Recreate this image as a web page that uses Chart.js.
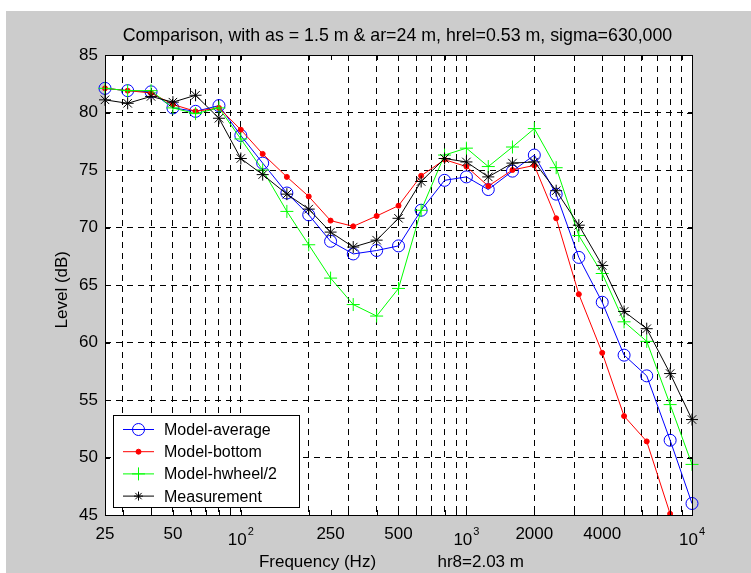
<!DOCTYPE html>
<html>
<head>
<meta charset="utf-8">
<script src="https://cdn.jsdelivr.net/npm/chart.js@4.4.1/dist/chart.umd.min.js"></script>
<style>
  html, body { margin: 0; padding: 0; background: #fff; }
  #wrap { position: absolute; left: 6px; top: 11px; width: 745px; height: 562px; background: #cccccc; }
  canvas { display: block; }
</style>
</head>
<body>
<div id="wrap"><canvas id="chart" width="745" height="562"></canvas></div>
<script>
// third-octave band centres (Hz)
const FREQS = [25, 31.5, 40, 50, 63, 80, 100, 125, 160, 200, 250, 315, 400, 500, 630, 800,
  1000, 1250, 1600, 2000, 2500, 3150, 4000, 5000, 6300, 8000, 10000];

const MODEL_AVERAGE = [82.1, 81.9, 81.8, 80.4, 80.1, 80.6, 78.0, 75.6, 73.0, 71.1, 68.8, 67.7, 68.0, 68.4,
  71.5, 74.1, 74.4, 73.3, 74.9, 76.3, 72.9, 67.4, 63.5, 58.9, 57.1, 51.5, 46.0];
const MODEL_BOTTOM = [82.1, 81.9, 81.7, 80.7, 80.1, 80.4, 78.5, 76.4, 74.4, 72.7, 70.6, 70.1, 71.0, 71.9,
  74.5, 75.9, 75.3, 73.6, 75.0, 75.4, 70.8, 64.2, 59.1, 53.6, 51.4, 45.1, 40.0];
const MODEL_HWHEEL = [82.1, 81.9, 81.9, 80.4, 79.9, 80.4, 77.7, 75.0, 71.4, 68.5, 65.6, 63.3, 62.3, 64.7,
  71.5, 76.3, 76.9, 75.3, 77.0, 78.6, 75.2, 69.3, 66.0, 61.8, 60.1, 54.6, 49.4];
const MEASUREMENT = [81.1, 80.8, 81.4, 80.9, 81.5, 79.5, 76.0, 74.6, 72.9, 71.6, 69.6, 68.3, 68.9, 70.8,
  74.0, 76.0, 75.7, 74.4, 75.6, 75.7, 73.2, 70.2, 66.7, 62.7, 61.2, 57.3, 53.3];

// x axis: plain labels, powers of ten (drawn as 10^n), and dashed grid positions
const X_LABELS = { 25: "25", 50: "50", 250: "250", 500: "500", 2000: "2000", 4000: "4000" };
const X_POWERS = [100, 1000, 10000];
const X_GRID = [30, 40, 50, 60, 70, 80, 90, 100, 200, 300, 400, 500, 600, 700, 800, 900,
  1000, 2000, 3000, 4000, 5000, 6000, 7000, 8000, 9000];
const X_TICKS = [25, 250, ...X_GRID, 10000].sort((a, b) => a - b);
const Y_TICKS = [45, 50, 55, 60, 65, 70, 75, 80, 85];

const TITLE = "Comparison, with as = 1.5 m & ar=24 m, hrel=0.53 m, sigma=630,000";
const FONT = "'Liberation Sans', Arial, sans-serif";

const toPoints = (vals) => vals.map((v, i) => ({ x: FREQS[i], y: v }));

/* ===== axes box, inward ticks, 10^n labels, title, legend ===== */
const matlabLook = {
  id: "matlabLook",
  beforeDraw(chart) {
    const { ctx, chartArea: a } = chart;
    ctx.save();
    ctx.fillStyle = "#cccccc";
    ctx.fillRect(0, 0, chart.width, chart.height);
    ctx.fillStyle = "#ffffff";
    ctx.fillRect(a.left, a.top, a.right - a.left, a.bottom - a.top);
    ctx.restore();
  },
  afterDraw(chart) {
    const { ctx, chartArea: a, scales } = chart;
    const xs = scales.x, ys = scales.y;
    ctx.save();

    // box + inward ticks
    ctx.strokeStyle = "#000";
    ctx.lineWidth = 1;
    ctx.strokeRect(Math.round(a.left) + 0.5, Math.round(a.top) + 0.5,
      Math.round(a.right - a.left), Math.round(a.bottom - a.top));
    ctx.beginPath();
    X_TICKS.forEach((v) => {
      const px = Math.round(xs.getPixelForValue(v)) + 0.5;
      ctx.moveTo(px, a.bottom); ctx.lineTo(px, a.bottom - 5);
      ctx.moveTo(px, a.top); ctx.lineTo(px, a.top + 5);
    });
    Y_TICKS.forEach((v) => {
      const py = Math.round(ys.getPixelForValue(v)) + 0.5;
      ctx.moveTo(a.left, py); ctx.lineTo(a.left + 5, py);
      ctx.moveTo(a.right, py); ctx.lineTo(a.right - 5, py);
    });
    ctx.stroke();

    // 10^n tick labels
    ctx.fillStyle = "#000";
    ctx.textBaseline = "alphabetic";
    X_POWERS.forEach((v) => {
      const px = xs.getPixelForValue(v);
      const exp = String(Math.round(Math.log10(v)));
      ctx.font = `17px ${FONT}`;
      const wBase = ctx.measureText("10").width;
      ctx.font = `11px ${FONT}`;
      const wExp = ctx.measureText(exp).width;
      const x0 = px - (wBase + wExp + 1) / 2;
      ctx.font = `17px ${FONT}`;
      ctx.textAlign = "left";
      ctx.fillText("10", x0, a.bottom + 30);
      ctx.font = `11px ${FONT}`;
      ctx.fillText(exp, x0 + wBase + 1, a.bottom + 20);
    });

    // title
    ctx.font = `17.8px ${FONT}`;
    ctx.textAlign = "center";
    ctx.textBaseline = "middle";
    ctx.fillText(TITLE, (a.left + a.right) / 2 - 1, 25);

    // legend box, lower left inside the axes
    const lx = Math.round(a.left + 8), lw = 186, lh = 92;
    const ly = Math.round(a.bottom - 8 - lh);
    ctx.fillStyle = "#fff";
    ctx.fillRect(lx, ly, lw, lh);
    ctx.strokeStyle = "#000";
    ctx.strokeRect(lx + 0.5, ly + 0.5, lw, lh);
    ctx.font = `16px ${FONT}`;
    ctx.textAlign = "left";
    chart.data.datasets.forEach((ds, i) => {
      const y = ly + 14.5 + i * 22.2;
      ctx.strokeStyle = ds.borderColor;
      ctx.lineWidth = 1;
      ctx.beginPath();
      ctx.moveTo(lx + 10, y); ctx.lineTo(lx + 41, y);
      ctx.stroke();
      ctx.fillStyle = ds.pointBackgroundColor;
      Chart.helpers.drawPoint(ctx, {
        pointStyle: ds.pointStyle,
        radius: ds.legendRadius,
        borderWidth: 1,
        rotation: 0,
      }, lx + 25.5, y);
      ctx.fillStyle = "#000";
      ctx.fillText(ds.label, lx + 51, y + 1);
    });
    ctx.restore();
  },
};

new Chart(document.getElementById("chart"), {
  type: "line",
  data: {
    datasets: [
      {
        label: "Model-average",
        data: toPoints(MODEL_AVERAGE),
        borderColor: "#0000ff",
        pointBackgroundColor: "rgba(0,0,0,0)",
        pointBorderColor: "#0000ff",
        pointStyle: "circle",
        pointRadius: 6,
        legendRadius: 6,
        order: 4,
      },
      {
        label: "Model-bottom",
        data: toPoints(MODEL_BOTTOM),
        borderColor: "#ff0000",
        pointBackgroundColor: "#ff0000",
        pointBorderColor: "#ff0000",
        pointStyle: "circle",
        pointRadius: 2.5,
        legendRadius: 2.5,
        order: 3,
        clip: { left: 10, top: 10, right: 10, bottom: 0 },
      },
      {
        label: "Model-hwheel/2",
        data: toPoints(MODEL_HWHEEL),
        borderColor: "#00ff00",
        pointBackgroundColor: "rgba(0,0,0,0)",
        pointBorderColor: "#00ff00",
        pointStyle: "cross",
        pointRadius: 6.5,
        legendRadius: 6.5,
        order: 2,
      },
      {
        label: "Measurement",
        data: toPoints(MEASUREMENT),
        borderColor: "#000000",
        pointBackgroundColor: "rgba(0,0,0,0)",
        pointBorderColor: "#000000",
        pointStyle: "star",
        pointRadius: 6,
        legendRadius: 4.5,
        order: 1,
      },
    ].map((ds) => ({
      clip: false,
      borderWidth: 1,
      pointBorderWidth: 1,
      tension: 0,
      fill: false,
      ...ds,
    })),
  },
  options: {
    responsive: false,
    animation: false,
    devicePixelRatio: 1,
    layout: { padding: { top: 44, right: 59, left: 0, bottom: 0 } },
    plugins: {
      legend: { display: false },
      tooltip: { enabled: false },
      title: { display: false },
    },
    scales: {
      x: {
        type: "logarithmic",
        min: 25,
        max: 10000,
        afterBuildTicks: (scale) => { scale.ticks = X_TICKS.map((v) => ({ value: v })); },
        afterFit: (scale) => { scale.height = 58; },
        ticks: {
          autoSkip: false,
          maxRotation: 0,
          color: "#000",
          padding: 9,
          font: { size: 17, family: FONT },
          callback: (v) => X_LABELS[v] || "",
        },
        grid: {
          color: (c) => (c.tick && X_GRID.includes(c.tick.value) ? "#000" : "rgba(0,0,0,0)"),
          lineWidth: 1,
          drawTicks: false,
        },
        border: { display: false, dash: [6, 5] },
        title: {
          display: true,
          text: "Frequency (Hz)             hr8=2.03 m   ",
          color: "#000",
          font: { size: 17, family: FONT },
          padding: { top: 0, bottom: 0 },
        },
      },
      y: {
        min: 45,
        max: 85,
        afterBuildTicks: (scale) => { scale.ticks = Y_TICKS.map((v) => ({ value: v })); },
        afterFit: (scale) => { scale.width = 99; },
        ticks: {
          color: "#000",
          padding: 7,
          font: { size: 17, family: FONT },
        },
        grid: {
          color: (c) => (c.tick && c.tick.value > 45 && c.tick.value < 85 ? "#000" : "rgba(0,0,0,0)"),
          lineWidth: 1,
          drawTicks: false,
        },
        border: { display: false, dash: [6, 5] },
        title: {
          display: true,
          text: "Level (dB)  ",
          color: "#000",
          font: { size: 17, family: FONT },
          padding: { top: 46, bottom: 0 },
        },
      },
    },
  },
  plugins: [matlabLook],
});
</script>
</body>
</html>
